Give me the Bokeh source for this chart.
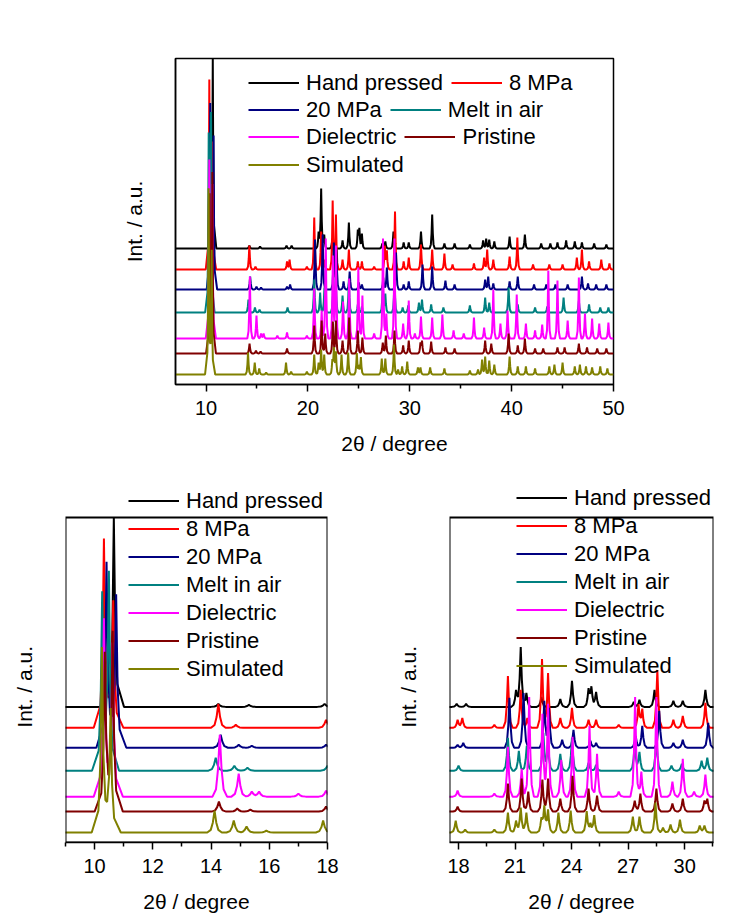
from bokeh.plotting import figure
from bokeh.layouts import column, row
from bokeh.models import Range1d, FixedTicker, Legend, LegendItem
from bokeh.embed import file_html
from bokeh.resources import INLINE

# ---------------- data (peak positions in 2theta, peak heights in a.u.) ----------------
SERIES = ["Hand pressed", "8 MPa", "20 MPa", "Melt in air", "Dielectric", "Pristine", "Simulated"]
COLORS = ["#000000", "#ff0000", "#000080", "#008080", "#ff00ff", "#800000", "#808000"]
OFFSETS = [136, 115, 95, 72, 46, 31, 10]

HP_POS = [10.66, 14.25, 15.3, 17.9, 18.4, 21.05, 21.3, 21.6, 22.4, 23.4, 24.02, 24.9, 25.05, 25.3,
          27.3, 27.6, 28.4, 29.4, 29.9, 31.1, 32.2, 33.4, 34.4, 35.9, 37.2, 37.5, 37.8, 38.3, 39.8,
          41.3, 42.9, 43.8, 44.5, 45.35, 46.2, 46.9, 48.1, 49.3]
HP_H = [190, 3, 2, 3, 3, 17, 60, 14, 10, 8, 26, 17, 19, 15,
        5, 7, 17, 6, 6, 17, 34, 5, 5, 4, 8, 10, 9, 7, 12,
        14, 5, 5, 6, 8, 7, 6, 5, 4]

M8_POS = [10.32, 10.64, 14.25, 14.85, 17.95, 18.2, 19.9, 20.62, 21.3, 21.65, 22.43, 22.75, 23.4,
          24.02, 24.9, 25.3, 26.5, 27.55, 27.75, 28.55, 29.4, 29.9, 31.1, 32.2, 33.4, 34.2, 36.3,
          37.3, 37.6, 38.2, 39.8, 40.56, 42.1, 43.7, 45.0, 46.4, 46.9, 47.6, 48.8, 49.6]
M8_H = [188, 125, 24, 3, 8, 10, 3, 52, 38, 10, 69, 55, 10,
        20, 8, 8, 3, 23, 18, 58, 8, 12, 25, 20, 16, 5, 6,
        12, 20, 10, 13, 32, 5, 5, 5, 12, 20, 8, 10, 6]

M20_POS = [10.41, 10.74, 14.33, 14.95, 15.4, 17.95, 18.25, 20.7, 21.45, 22.55, 22.8, 23.5, 24.1,
           25.0, 25.3, 27.4, 27.75, 28.65, 29.4, 29.9, 31.25, 32.2, 33.5, 34.4, 37.4, 37.7, 38.2,
           39.8, 40.6, 42.2, 43.4, 44.3, 45.5, 46.9, 47.5, 48.3, 49.3]
M20_H = [185, 152, 13, 3, 2, 3, 5, 50, 55, 47, 40, 8, 18,
         7, 5, 12, 22, 37, 5, 8, 25, 23, 9, 5, 10, 13, 6,
         8, 13, 5, 5, 5, 5, 13, 6, 5, 5]

MELT_POS = [10.26, 10.49, 14.16, 14.8, 15.25, 18.0, 20.62, 21.2, 21.62, 22.5, 22.75, 23.4, 24.02,
            24.9, 25.3, 27.35, 27.6, 28.5, 29.3, 29.85, 30.9, 31.2, 32.1, 33.3, 35.9, 37.4, 37.8,
            39.7, 40.6, 42.3, 43.5, 45.1, 46.6, 47.6, 48.7, 49.5]
MELT_H = [168, 190, 13, 5, 3, 5, 33, 20, 25, 38, 27, 17, 33,
          8, 6, 27, 19, 33, 5, 7, 10, 13, 8, 5, 7, 15, 10,
          25, 8, 5, 6, 15, 12, 8, 5, 5]

DIEL_POS = [10.32, 10.62, 14.3, 14.95, 15.4, 15.65, 17.0, 17.95, 19.9, 20.62, 21.35, 21.75, 22.45,
            22.75, 23.45, 24.05, 24.95, 25.35, 26.5, 27.37, 27.7, 28.5, 29.35, 29.9, 30.5, 31.1,
            32.2, 33.2, 34.3, 35.3, 36.3, 37.3, 38.2, 38.9, 39.6, 40.5, 41.4, 42.3, 43.0, 43.6,
            44.5, 45.5, 46.6, 47.2, 47.9, 48.6, 49.5]
DIEL_H = [175, 150, 62, 23, 5, 5, 3, 6, 3, 50, 28, 100, 83,
          93, 37, 60, 71, 43, 5, 100, 25, 100, 15, 38, 5, 22,
          21, 24, 8, 5, 21, 11, 49, 15, 28, 44, 15, 8, 14, 68,
          58, 18, 61, 25, 20, 15, 16]

PRIS_POS = [10.35, 10.62, 14.27, 14.9, 15.35, 17.95, 20.62, 21.35, 21.7, 22.45, 22.75, 23.4, 24.05,
            24.9, 25.35, 27.35, 27.65, 28.5, 29.35, 29.9, 31.05, 31.2, 32.1, 33.5, 34.4, 37.4, 38.0,
            39.7, 40.6, 41.3, 42.3, 43.1, 44.5, 45.2, 46.6, 47.4, 48.4, 49.3]
PRIS_H = [153, 175, 10, 3, 2, 5, 28, 33, 20, 32, 33, 13, 36,
          23, 16, 11, 18, 23, 8, 13, 10, 12, 12, 6, 5, 13, 10,
          20, 8, 15, 5, 5, 6, 6, 10, 6, 5, 5]

SIM_POS = [10.25, 10.55, 14.12, 14.78, 15.22, 15.9, 17.85, 18.35, 19.9, 20.62, 21.05, 21.3, 21.6,
           22.4, 22.55, 22.75, 23.3, 23.95, 24.8, 25.0, 25.2, 27.25, 27.6, 28.45, 28.85, 29.25,
           29.75, 30.8, 31.05, 32.0, 33.4, 35.9, 36.7, 37.1, 37.4, 37.8, 38.3, 39.8, 40.6, 41.4,
           42.3, 43.7, 44.2, 45.0, 46.2, 46.7, 47.3, 47.9, 48.7, 49.4]
SIM_H = [183, 120, 22, 12, 6, 2, 12, 3, 3, 20, 12, 25, 20,
         13, 25, 22, 20, 22, 21, 8, 17, 16, 16, 30, 5, 8,
         13, 7, 7, 7, 6, 4, 5, 15, 18, 14, 10, 18, 8, 8,
         6, 8, 10, 12, 8, 10, 8, 7, 8, 6]

PEAKS = [(HP_POS, HP_H), (M8_POS, M8_H), (M20_POS, M20_H), (MELT_POS, MELT_H),
         (DIEL_POS, DIEL_H), (PRIS_POS, PRIS_H), (SIM_POS, SIM_H)]

X_LO, X_HI = 7.0, 50.0
Y_TOP = 326
FONT = "Liberation Sans"

# peak shape (style only): breakpoints (distance, fraction of height)
SHAPE_MAIN = [(0.0, 1.0), (0.05, 0.4), (0.12, 0.12), (0.35, 0.0)]
SHAPE_SMALL = [(0.0, 1.0), (0.06, 0.45), (0.13, 0.12), (0.25, 0.0)]


def shape(p):
    return SHAPE_MAIN if p < 11 else SHAPE_SMALL


def frac(sh, d):
    for (d0, f0), (d1, f1) in zip(sh[:-1], sh[1:]):
        if d0 <= d < d1:
            return f0 + (f1 - f0) * (d - d0) / (d1 - d0)
    return 0.0


def trace(pos, hts, off):
    pts = {X_LO, X_HI}
    for p in pos:
        for d, _ in shape(p):
            pts.update([p - d, p + d])
    xs = sorted(pts)
    ys = [off + sum(h * frac(shape(p), abs(x - p)) for p, h in zip(pos, hts)) for x in xs]
    return xs, ys


TRACES = [trace(p, h, o) for (p, h), o in zip(PEAKS, OFFSETS)]


def make_fig(w, h, xr, ticks, minor, borders, ytop, boxed=False, ylabel="Int. / a.u."):
    l, r, t, b = borders
    p = figure(width=w, height=h, x_range=Range1d(*xr), y_range=Range1d(0, ytop),
               output_backend="svg", toolbar_location=None,
               min_border_left=l, min_border_right=r, min_border_top=t, min_border_bottom=b)
    p.grid.visible = False
    p.background_fill_color = None
    p.border_fill_color = None
    p.xaxis.ticker = FixedTicker(ticks=ticks, minor_ticks=minor)
    p.yaxis.ticker = FixedTicker(ticks=[])
    for ax in (p.xaxis[0], p.yaxis[0]):
        ax.axis_line_width = 1.5
        ax.axis_line_color = "black"
        ax.major_tick_line_width = 1.5
        ax.minor_tick_line_width = 1.5
        ax.major_tick_in = 0
        ax.major_tick_out = 7
        ax.minor_tick_in = 0
        ax.minor_tick_out = 4
        ax.major_label_text_font = FONT
        ax.major_label_text_font_size = "20px"
        ax.major_label_text_color = "black"
        ax.axis_label_text_font = FONT
        ax.axis_label_text_font_size = "21px"
        ax.axis_label_text_font_style = "normal"
        ax.axis_label_text_color = "black"
    p.xaxis.axis_label = "2θ / degree"
    p.xaxis.major_label_standoff = 9
    p.xaxis.axis_label_standoff = 14
    p.yaxis.axis_label = ylabel
    p.yaxis.axis_label_standoff = 30
    rends = []
    for (xs, ys), c in zip(TRACES, COLORS):
        rends.append(p.line(xs, ys, line_color=c, line_width=2))
    if boxed:
        # frame drawn as a closed outline so the legend may reach above it
        p.outline_line_color = None
        p.yaxis.axis_line_color = None
        x0, x1 = xr
        p.line([x0, x0, x1, x1, x0], [0, Y_TOP, Y_TOP, 0, 0], line_color="black",
               line_width=2, line_join="miter")
    else:
        p.outline_line_color = "black"
        p.outline_line_width = 1.5
    return p, rends


def style_legend(lg):
    lg.label_text_font = FONT
    lg.label_text_font_size = "22px"
    lg.label_text_color = "black"
    lg.glyph_width = 51
    lg.glyph_height = 27
    lg.label_height = 27
    lg.label_standoff = 7
    lg.padding = 0
    lg.margin = 0
    lg.border_line_color = None
    lg.background_fill_alpha = 0
    lg.click_policy = "none"


# top panel
top, rt = make_fig(750, 470, (X_LO, X_HI), [10, 20, 30, 40, 50], [15, 25, 35, 45],
                   (175, 137, 58, 86), Y_TOP)
rows = [(0, 1), (2, 3), (4, 5), (6,)]
row_bottoms = [288, 261, 234, 206]
for idx, yb in zip(rows, row_bottoms):
    lg = Legend(items=[LegendItem(label=SERIES[i], renderers=[rt[i]]) for i in idx],
                orientation="horizontal", location=(73, yb), spacing=8)
    style_legend(lg)
    top.add_layout(lg)

# bottom panels: frame area extended upward to hold the first legend row
EXTRA = 33
YLAB_B = "Int. / a.u." + "\u00a0" * 8


def bottom_panel(xr, ticks, minor, borders, lx, ly):
    p, rr = make_fig(375, 445, xr, ticks, minor, borders, Y_TOP + EXTRA, boxed=True, ylabel=YLAB_B)
    lg = Legend(items=[LegendItem(label=SERIES[i], renderers=[rr[i]]) for i in range(7)],
                orientation="vertical", location=(lx, ly), spacing=1)
    style_legend(lg)
    p.add_layout(lg)
    return p


bl = bottom_panel((9, 18), [10, 12, 14, 16, 18], [9, 11, 13, 15, 17], (65, 48, 47 - EXTRA, 72), 63, 160)
br = bottom_panel((17.52, 31.53), [18, 21, 24, 27, 30], [19.5, 22.5, 25.5, 28.5, 31.5],
                  (74, 37, 47 - EXTRA, 72), 67, 163)

layout = column(top, row(bl, br, spacing=0), spacing=0)
open("out.html", "w").write(file_html(layout, INLINE))
